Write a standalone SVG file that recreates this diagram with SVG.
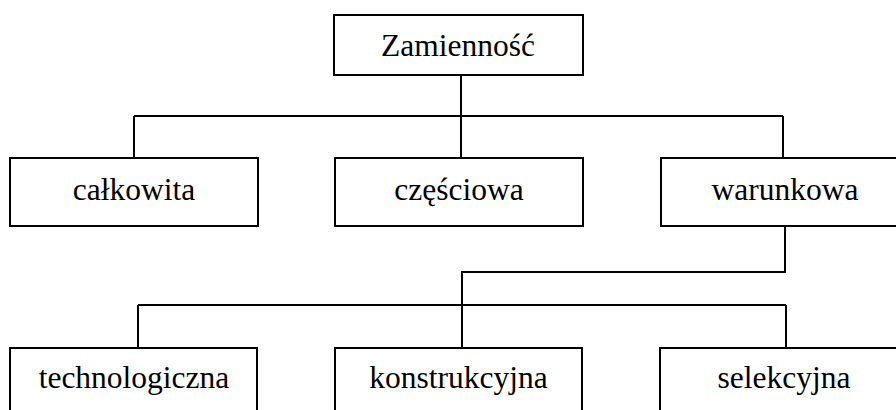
<svg xmlns="http://www.w3.org/2000/svg" width="896" height="410" viewBox="0 0 896 410">
<style>
.box{fill:#fff;stroke:#000;stroke-width:2}
.ln{fill:none;stroke:#000;stroke-width:2}
.t{font-family:'Liberation Serif','Times New Roman',serif;font-size:31.5px;text-anchor:middle;fill:#000}
</style>
<rect width="896" height="410" fill="#fff"/>
<g id="connectors">
<path class="ln" d="M461 75V116M134 116H783M134 116V158M461 116V158M783 116V158"/>
<path class="ln" d="M785 226V272H462V348M138 305H786M138 305V348M786 305V348"/>
</g>
<g id="zamiennosc"><rect class="box" x="334" y="15" width="249" height="60"/><text class="t" x="458" y="55.5">Zamienność</text></g>
<g id="calkowita"><rect class="box" x="10" y="158" width="248" height="68"/><text class="t" x="134" y="200">całkowita</text></g>
<g id="czesciowa"><rect class="box" x="335" y="158" width="248" height="68"/><text class="t" x="459" y="200">częściowa</text></g>
<g id="warunkowa"><rect class="box" x="661" y="158" width="249" height="68"/><text class="t" x="785" y="200">warunkowa</text></g>
<g id="technologiczna"><rect class="box" x="10" y="348" width="247" height="80"/><text class="t" x="134" y="388">technologiczna</text></g>
<g id="konstrukcyjna"><rect class="box" x="335" y="348" width="247" height="80"/><text class="t" x="458.5" y="388">konstrukcyjna</text></g>
<g id="selekcyjna"><rect class="box" x="660" y="348" width="248" height="80"/><text class="t" x="784" y="388">selekcyjna</text></g>
</svg>
